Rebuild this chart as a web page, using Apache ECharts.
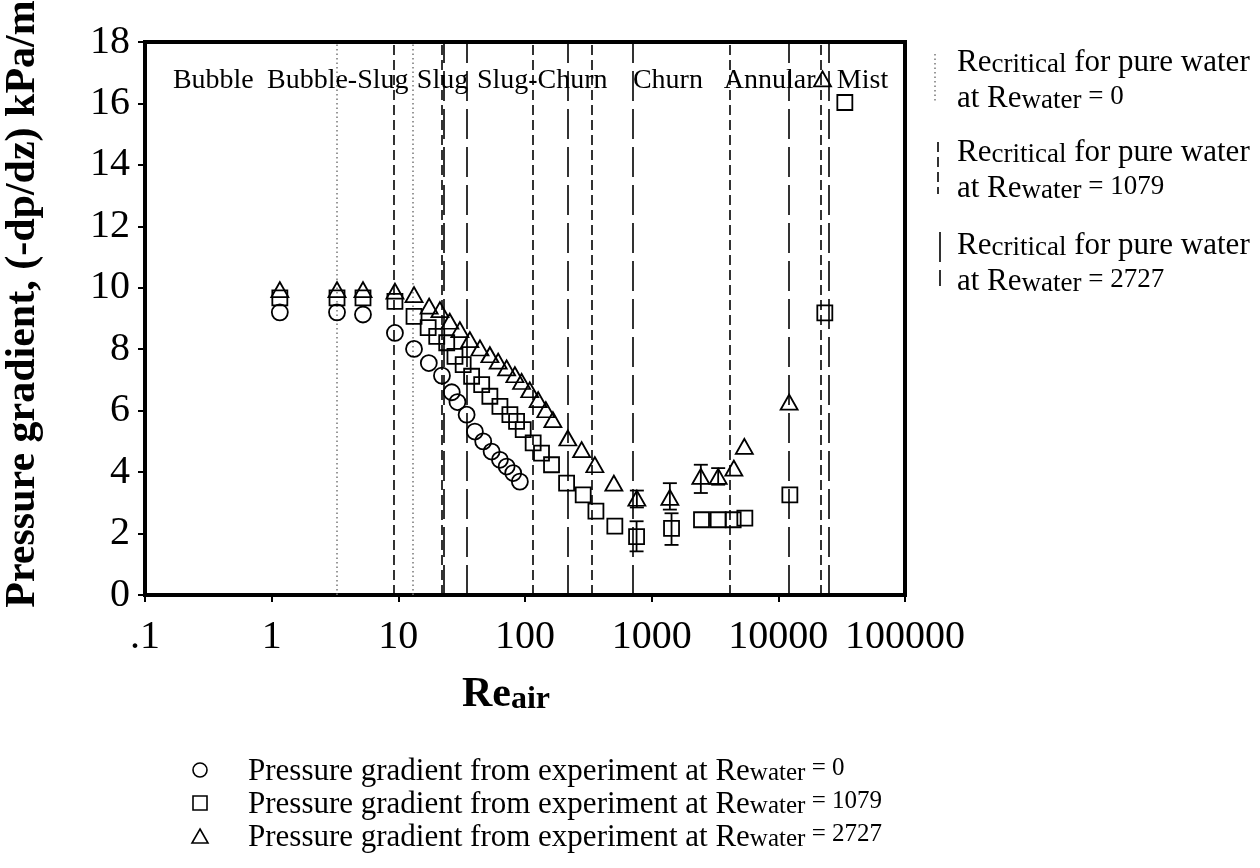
<!DOCTYPE html>
<html>
<head>
<meta charset="utf-8">
<script src="https://cdn.jsdelivr.net/npm/echarts/dist/echarts.min.js"></script>
<style>
html,body{margin:0;padding:0;background:#fff;}
#chart{width:1260px;height:868px;}
</style>
</head>
<body>
<div id="chart"></div>
<script>
// ---------- data ----------
const xTickLabels = ['.1', '1', '10', '100', '1000', '10000', '100000'];

const reCircle = [1.16, 3.28, 5.26, 9.4, 13.3, 17.4, 22.1, 26.4, 29.3, 34.6, 40.2, 46.8, 54.5, 63.4, 71.6, 80.7, 91.1];
const pgCircle = [9.2, 9.2, 9.13, 8.53, 8.01, 7.55, 7.14, 6.6, 6.28, 5.87, 5.32, 5.0, 4.67, 4.4, 4.18, 3.97, 3.69];

const reSquare = [1.16, 3.28, 5.26, 9.4, 13.3, 17.2, 20.1, 24.1, 28.0, 32.5, 37.9, 45.5, 52.8, 63.4, 76.0, 85.8, 96.8, 116, 135, 162, 213, 288, 363, 512, 760, 1435, 2475, 3350, 4400, 5440, 12330, 23280, 33500];
const pgSquare = [9.67, 9.67, 9.67, 9.56, 9.07, 8.7, 8.42, 8.21, 7.77, 7.5, 7.12, 6.85, 6.47, 6.14, 5.87, 5.65, 5.38, 4.95, 4.62, 4.24, 3.64, 3.26, 2.73, 2.24, 1.9, 2.17, 2.45, 2.45, 2.45, 2.5, 3.26, 9.18, 16.03];

const reTriangle = [1.16, 3.28, 5.26, 9.4, 13.3, 17.5, 21.3, 25.5, 30.6, 36.7, 44.1, 52.8, 61.4, 71.6, 83.2, 94.0, 109, 127, 146, 166, 218, 280, 356, 503, 764, 1392, 2444, 3350, 4455, 5390, 12170, 22330];
const pgTriangle = [9.94, 9.94, 9.94, 9.89, 9.78, 9.4, 9.29, 8.91, 8.64, 8.31, 8.04, 7.82, 7.61, 7.39, 7.17, 6.95, 6.68, 6.36, 6.03, 5.71, 5.11, 4.73, 4.24, 3.64, 3.15, 3.18, 3.86, 3.86, 4.13, 4.84, 6.28, 16.8];

// error bars
const errRe   = [764, 760, 1392, 1435, 2444, 3350];
const errLow  = [2.85, 1.42, 2.78, 1.63, 3.32, 3.59];
const errHigh = [3.40, 2.40, 3.64, 2.66, 4.24, 4.13];

// critical Re lines
const critRe0    = [3.25, 12.9];
const critRe1079 = [9.23, 21.9, 115.5, 337, 4106, 21460];
const critRe2727 = [22.9, 34.5, 216, 704, 12100, 25030];

// flow regime labels (left edge Re)
const regimeNames = ['Bubble', 'Bubble-Slug', 'Slug', 'Slug-Churn', 'Churn', 'Annular', 'Mist'];
const regimeRe    = [0.166, 0.918, 14.0, 41.7, 711, 3715, 28970];
const regimeLevel = 16.75;

const waterRe = ['0', '1079', '2727'];

// ---------- chart ----------
const FONT = '"Liberation Serif", "Times New Roman", serif';
const pts = (xs, ys) => xs.map((x, i) => [x, ys[i]]);
const hollow = { color: 'rgba(255,255,255,0)', borderColor: '#000', borderWidth: 1.8, opacity: 1 };

function renderErr(params, api) {
  const x = api.value(0), lo = api.value(1), hi = api.value(2);
  const pLo = api.coord([x, lo]), pHi = api.coord([x, hi]);
  const w = 7;
  const st = { stroke: '#000', lineWidth: 1.8 };
  return {
    type: 'group',
    children: [
      { type: 'line', shape: { x1: pLo[0], y1: pLo[1], x2: pHi[0], y2: pHi[1] }, style: st },
      { type: 'line', shape: { x1: pLo[0] - w, y1: pLo[1], x2: pLo[0] + w, y2: pLo[1] }, style: st },
      { type: 'line', shape: { x1: pHi[0] - w, y1: pHi[1], x2: pHi[0] + w, y2: pHi[1] }, style: st }
    ]
  };
}

function critSeries(vals, lineStyle) {
  return {
    type: 'line', data: [], silent: true,
    markLine: {
      silent: true, symbol: ['none', 'none'], label: { show: false },
      lineStyle: lineStyle, animation: false,
      data: vals.map(v => ({ xAxis: v }))
    }
  };
}

const legRich = {
  a: { fontFamily: FONT, fontSize: 31, fill: '#000', verticalAlign: 'top', lineHeight: 30 },
  s: { fontFamily: FONT, fontSize: 25, fill: '#000', verticalAlign: 'bottom', lineHeight: 24, padding: [9, 0, 0, 0] },
  t: { fontFamily: FONT, fontSize: 25, fill: '#000', verticalAlign: 'top', lineHeight: 30 }
};

const sideRich = {
  a: { fontFamily: FONT, fontSize: 31, fill: '#000', verticalAlign: 'top', lineHeight: 31 },
  s: { fontFamily: FONT, fontSize: 27, fill: '#000', verticalAlign: 'bottom', lineHeight: 27, padding: [10, 0, 0, 0] },
  t: { fontFamily: FONT, fontSize: 27, fill: '#000', verticalAlign: 'top', lineHeight: 31 }
};

function sideText(x, y, text) {
  return { type: 'text', x: x, y: y, style: { text: text, rich: sideRich, fill: '#000' } };
}
function legText(x, y, val) {
  return {
    type: 'text', x: x, y: y,
    style: { text: '{a|Pressure gradient from experiment at Re}{s|water}{t| = ' + val + '}', rich: legRich, fill: '#000' }
  };
}
const iconStyle = { fill: 'rgba(0,0,0,0)', stroke: '#000', lineWidth: 1.6 };

const chart = echarts.init(document.getElementById('chart'), null, { renderer: 'canvas' });
chart.setOption({
  animation: false,
  backgroundColor: '#fff',
  grid: {
    left: 145, right: 355, top: 42, bottom: 273,
    show: true, borderColor: '#000', borderWidth: 4, backgroundColor: 'rgba(0,0,0,0)'
  },
  xAxis: {
    type: 'log', logBase: 10, min: 0.1, max: 100000,
    axisLine: { show: true, lineStyle: { color: '#000', width: 4 } },
    axisTick: { show: true, inside: false, length: 7, lineStyle: { color: '#000', width: 2 } },
    minorTick: { show: false },
    splitLine: { show: false },
    axisLabel: {
      fontFamily: FONT, fontSize: 40, color: '#000', margin: 22,
      formatter: v => xTickLabels[Math.round(Math.log10(v)) + 1]
    }
  },
  yAxis: {
    type: 'value', min: 0, max: 18, interval: 2,
    axisLine: { show: true, lineStyle: { color: '#000', width: 4 } },
    axisTick: { show: true, inside: false, length: 7, lineStyle: { color: '#000', width: 2 } },
    splitLine: { show: false },
    axisLabel: { fontFamily: FONT, fontSize: 40, color: '#000', margin: 15 }
  },
  series: [
    critSeries(critRe0, { color: '#777', width: 1.5, type: [1.5, 3] }),
    critSeries(critRe1079, { color: '#000', width: 1.6, type: [10, 5] }),
    critSeries(critRe2727, { color: '#000', width: 1.6, type: [30, 8] }),
    {
      name: 'Re_water = ' + waterRe[0], type: 'scatter', symbol: 'circle', symbolSize: 16,
      itemStyle: hollow, data: pts(reCircle, pgCircle), z: 5
    },
    {
      name: 'Re_water = ' + waterRe[1], type: 'scatter', symbol: 'rect', symbolSize: 15,
      itemStyle: hollow, data: pts(reSquare, pgSquare), z: 5
    },
    {
      name: 'Re_water = ' + waterRe[2], type: 'scatter', symbol: 'triangle', symbolSize: [17, 15],
      itemStyle: hollow, data: pts(reTriangle, pgTriangle), z: 5
    },
    {
      type: 'custom', renderItem: renderErr, z: 4, silent: true,
      data: errRe.map((r, i) => [r, errLow[i], errHigh[i]]),
      encode: { x: 0, y: [1, 2] }
    },
    {
      type: 'scatter', symbolSize: 0, silent: true, z: 6,
      itemStyle: { opacity: 1 },
      data: regimeNames.map((n, i) => ({ name: n, value: [regimeRe[i], regimeLevel] })),
      label: {
        show: true, position: 'right', distance: 0, formatter: '{b}',
        fontFamily: FONT, fontSize: 28, color: '#000', opacity: 1
      }
    }
  ],
  graphic: [
    {
      type: 'text', x: 23, y: 304, rotation: Math.PI / 2,
      style: {
        text: 'Pressure gradient, (-dp/dz) kPa/m', fill: '#000',
        font: 'bold 42px "Liberation Serif", serif', align: 'center', verticalAlign: 'middle'
      }
    },
    {
      type: 'text', x: 462, y: 674,
      style: {
        text: '{a|Re}{s|air}', fill: '#000',
        rich: {
          a: { fontFamily: FONT, fontWeight: 'bold', fontSize: 42, verticalAlign: 'top', lineHeight: 42 },
          s: { fontFamily: FONT, fontWeight: 'bold', fontSize: 32, verticalAlign: 'bottom', lineHeight: 32, padding: [18, 0, 0, 0] }
        }
      }
    },
    // side legend for critical lines
    { type: 'line', shape: { x1: 935, y1: 54, x2: 935, y2: 102 }, style: { stroke: '#777', lineWidth: 1.5, lineDash: [1.5, 3] } },
    { type: 'line', shape: { x1: 938, y1: 142, x2: 938, y2: 194 }, style: { stroke: '#000', lineWidth: 1.6, lineDash: [10, 5] } },
    { type: 'line', shape: { x1: 940, y1: 232, x2: 940, y2: 286 }, style: { stroke: '#000', lineWidth: 1.6, lineDash: [30, 8] } },
    sideText(957, 47, '{a|Re}{s|critical}{a| for pure water}'),
    sideText(957, 83, '{a|at Re}{s|water}{t| = ' + waterRe[0] + '}'),
    sideText(957, 137, '{a|Re}{s|critical}{a| for pure water}'),
    sideText(957, 173, '{a|at Re}{s|water}{t| = ' + waterRe[1] + '}'),
    sideText(957, 230, '{a|Re}{s|critical}{a| for pure water}'),
    sideText(957, 266, '{a|at Re}{s|water}{t| = ' + waterRe[2] + '}'),
    // bottom legend
    { type: 'circle', shape: { cx: 200, cy: 770, r: 7 }, style: iconStyle },
    { type: 'rect', shape: { x: 193, y: 796, width: 14, height: 14 }, style: iconStyle },
    { type: 'polygon', shape: { points: [[200, 829], [208, 843], [192, 843]] }, style: iconStyle },
    legText(248, 756, waterRe[0]),
    legText(248, 789, waterRe[1]),
    legText(248, 822, waterRe[2])
  ]
});
</script>
</body>
</html>
